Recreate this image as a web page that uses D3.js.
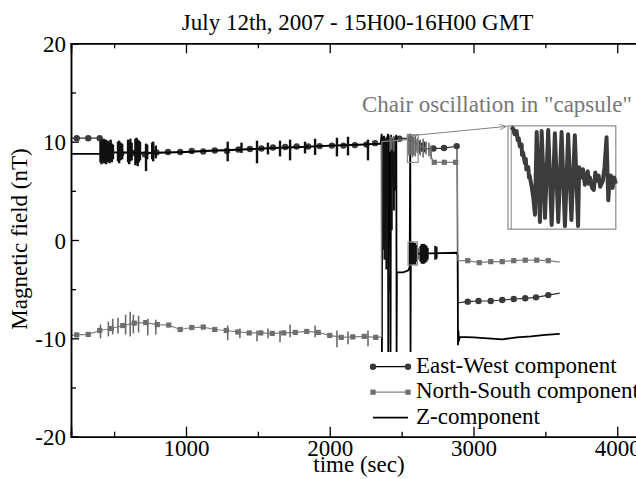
<!DOCTYPE html>
<html>
<head>
<meta charset="utf-8">
<script src="https://cdn.jsdelivr.net/npm/d3@7"></script>
<style>
  body { margin: 0; background: #fff; }
  text { font-family: "Liberation Serif", "DejaVu Serif", serif; }
</style>
</head>
<body>
<div id="chart"></div>
<script>
// time axis ticks and labels
var xMajor = [1000, 2000, 3000, 4000];
var xMinor = [500, 1500, 2500, 3500];
var yMajor = [-20, -10, 0, 10, 20];
var yMinor = [-15, -5, 5, 15];

// East-West component: base line [t, nT]
var ewLine = [[200,10.35],[400,10.35],[410,9.3],[430,8.9],[550,8.85],[630,8.85],[715,8.7],[795,8.9],[875,8.95],
  [960,8.95],[1040,9.05],[1120,9.0],[1200,9.1],[1285,9.05],[1365,9.2],[1445,9.25],[1525,9.3],[1605,9.4],
  [1690,9.45],[1770,9.5],[1850,9.5],[1930,9.55],[2015,9.6],[2095,9.6],[2175,9.65],[2255,9.7],[2340,9.8],
  [2400,10.0],[2485,10.3],[2560,10.35],[2600,9.8],[2642,9.3],[2721,9.3],[2795,9.35],[2885,9.55],
  [2890,-6.4],[2960,-6.27],[3035,-6.2],[3120,-6.2],[3200,-6.1],[3280,-6.0],[3360,-5.93],[3435,-5.83],
  [3520,-5.6],[3600,-5.4]];
var ewDots = [[240,10.35],[320,10.35],[400,10.35],[550,8.8],[630,8.85],[715,8.7],[795,8.9],[875,8.95],
  [960,8.95],[1040,9.05],[1120,9.0],[1200,9.1],[1285,9.05],[1365,9.2],[1445,9.25],[1525,9.3],[1605,9.4],
  [1690,9.45],[1770,9.5],[1850,9.5],[1930,9.55],[2015,9.6],[2095,9.6],[2175,9.65],[2255,9.7],[2315,9.85],
  [2485,10.3],[2558,10.35],[2642,9.3],[2721,9.3],[2795,9.35],[2883,9.55],
  [2960,-6.27],[3035,-6.2],[3120,-6.2],[3200,-6.1],[3280,-6.0],[3360,-5.93],[3435,-5.83],[3520,-5.6]];
var ewBursts = [[2610,9.0,10.2],[2625,8.8,10.1],[2640,9.1,9.9],[2660,8.9,10.0]];

// North-South component
var nsLine = [[200,-9.7],[240,-9.65],[320,-9.6],[400,-9.2],[480,-9.0],[560,-8.7],[640,-8.45],[720,-8.4],
  [800,-8.6],[880,-8.65],[960,-9.1],[1040,-8.9],[1120,-8.85],[1200,-9.1],[1280,-9.2],[1360,-9.35],
  [1440,-9.45],[1520,-9.45],[1600,-9.5],[1680,-9.45],[1760,-9.4],[1840,-9.3],[1920,-9.4],[2000,-9.7],
  [2080,-9.9],[2160,-9.85],[2240,-9.8],[2320,-9.9],[2360,-9.85],[2362,10.0],[2450,10.1],[2530,10.2],
  [2560,10.5],[2600,9.7],[2690,9.2],[2720,7.9],[2888,7.9],[2892,-2.1],[2960,-2.1],[3040,-2.3],
  [3120,-2.2],[3200,-2.2],[3280,-2.1],[3360,-2.05],[3440,-2.05],[3520,-2.1],[3600,-2.25]];
var nsDots = [[240,-9.65],[320,-9.6],[400,-9.2],[480,-9.0],[560,-8.7],[640,-8.45],[720,-8.4],[800,-8.6],
  [880,-8.65],[960,-9.1],[1040,-8.9],[1120,-8.85],[1200,-9.1],[1280,-9.2],[1360,-9.35],[1440,-9.45],
  [1520,-9.45],[1600,-9.5],[1680,-9.45],[1760,-9.4],[1840,-9.3],[1920,-9.4],[2000,-9.7],[2080,-9.9],
  [2160,-9.85],[2240,-9.8],[2320,-9.9],[2727,7.9],[2797,7.9],[2876,7.9],
  [2960,-2.1],[3040,-2.3],[3120,-2.2],[3200,-2.2],[3280,-2.1],[3360,-2.05],[3440,-2.05],[3520,-2.1]];
var nsBursts = [[405,-10.0,-8.6],[460,-9.8,-8.3],[490,-9.6,-8.0],[527,-9.5,-7.9],[580,-9.6,-7.6],
  [612,-9.8,-7.3],[634,-9.5,-7.6],[670,-9.4,-7.7],[734,-9.7,-8.0],[790,-9.6,-8.1],[1290,-10.2,-8.7],
  [1375,-10.0,-9.0],[1494,-10.3,-9.2],[1570,-10.0,-9.0],[1654,-10.4,-9.2],[1724,-9.9,-8.6],
  [1898,-9.9,-8.7],[2050,-10.9,-9.2],[2127,-10.6,-9.3],[2266,-10.8,-9.2],
  [2420,9.0,10.7],[2430,9.2,10.5],[2445,9.0,10.6],[2545,8.6,10.8],[2555,8.5,10.7],[2565,8.7,10.6],
  [2575,8.4,10.7],[2585,8.6,10.5],[2595,8.5,10.6],[2610,8.8,10.4],[2630,8.6,10.2],[2650,8.4,10.3],
  [2670,8.7,10.0],[2690,8.5,9.9],[2705,8.2,9.6]];

// Z component
var zLine = [[200,8.75],[400,8.75],[480,8.9],[600,8.9],[800,8.85],[1000,8.95],[1200,9.1],[1400,9.2],
  [1600,9.35],[1800,9.45],[2000,9.6],[2200,9.7],[2355,9.8],[2361,10.8],[2363,-11.4],[2366,10.5],
  [2380,4],[2392,9],[2405,10.8],[2407,-11.4],[2410,10.6],[2420,8],[2423,-11.4],[2426,10.7],[2445,5],
  [2463,10.7],[2465,-11.4],[2467,-3.3],[2510,-3.3],[2545,-3.1],[2556,-2.8],[2560,10.8],[2562,-11.4],
  [2564,-1.4],[2700,-1.35],[2885,-1.3],[2890,-1.6],[2892,-10.7],[2895,-9.2],[2898,-10.3],[2905,-9.85],
  [3000,-9.9],[3100,-10.0],[3200,-10.1],[3300,-9.9],[3400,-9.8],[3500,-9.65],[3600,-9.55]];
var zBursts = [[405,7.9,10.0],[412,7.7,10.2],[420,8.0,10.1],[428,7.8,10.3],[436,8.1,9.9],[444,7.7,10.2],
  [452,7.9,10.0],[460,8.0,10.1],[468,7.8,9.9],[476,8.1,10.2],[484,7.9,9.8],[492,8.2,9.7],
  [527,8.0,10.0],[535,7.8,10.1],[545,8.1,9.9],[556,8.2,9.8],[597,7.9,10.2],[605,7.7,10.0],
  [613,8.0,10.3],[622,8.1,9.9],[648,7.6,10.3],[656,7.8,10.4],[664,7.5,10.2],[672,7.9,10.1],
  [680,8.1,10.0],[722,7.0,9.8],[730,8.2,9.7],[765,8.2,9.9],[772,8.0,10.0],[790,8.3,9.6],
  [1290,8.0,10.0],[1386,8.85,9.9],[1494,7.8,10.1],[1570,8.7,9.9],[1654,8.5,10.1],[1724,8.1,10.2],
  [1828,8.8,10.0],[1898,8.65,10.3],[2050,8.5,10.4],[2127,8.6,10.5],[2266,8.1,10.2],
  [2370,-1,10.5],[2376,2,10.6],[2382,-2,10.4],[2388,0,10.2],[2395,-3,10.0],[2400,3,10.5],
  [2412,-5.3,-3.6],[2430,1,10.4],[2445,3,10.3],[2455,5,10.5],
  [2562,-2.5,-0.2],[2570,-2.4,-0.3],[2578,-2.5,-0.2],[2586,-2.3,-0.4],[2594,-2.5,-0.3],[2602,-2.2,-0.5],
  [2610,-2.0,-0.8],[2632,-2.2,-0.6],[2640,-2.4,-0.4],[2648,-2.4,-0.4],[2656,-2.4,-0.4],[2664,-2.3,-0.5],
  [2672,-2.2,-0.6],[2680,-2.0,-0.8],[2735,-2.0,-0.6],[2742,-1.9,-0.7]];

// zoomed "capsule" trace, inset units 0..100
var insetTrace = [[3,99],[5,97],[6,92],[8,95],[9,86],[10,88],[11,80],[12.7,82],[13,72],[14,74],[15.7,64],
  [16.5,68],[17,58],[18.8,60],[19.5,50],[20,52],[22,41],[23.5,30],
  [25,14],[26.6,94],[29.6,7],[31.2,95],[34.3,11],[37.3,96],[40.5,4],[43.5,93],[46.6,7],[49.7,94],
  [52.8,3],[55.8,92],[58.8,9],[62,91],[65,3],[66,60],[68,50],[69.5,58],[71.3,43],[73,52],[74,56],
  [75,44],[76,50],[78,40],[79.6,38],[81,55],[82,47],[84,52],[85.5,41],[88,47],[89.5,60],[91.4,89],
  [93,28],[94,44],[95.4,52],[97,40],[98.5,50],[100,44]];
var insetBox = [3240, 3990, 1.1, 11.6];
var sourceBoxes = [[2540, 2615, 7.9, 10.7], [2545, 2610, -2.55, -0.2]];
var arrowPts = [[2544, 10.58], [3230, 11.55]];

var W = 636, H = 479, FS = 23;
var margin = {left: 71, top: 43.3, right: -10, bottom: 42.3};
var pw = W - margin.left - margin.right, ph = H - margin.top - margin.bottom;

var svg = d3.select("#chart").append("svg").attr("width", W).attr("height", H);
svg.append("defs").append("marker")
  .attr("id", "arr").attr("viewBox", "0 0 10 10").attr("refX", 10).attr("refY", 5)
  .attr("markerWidth", 7).attr("markerHeight", 7).attr("orient", "auto")
  .append("path").attr("d", "M0,1 L10,5 L0,9").attr("fill", "none").attr("stroke", "#808080").attr("stroke-width", 1.2);

var g = svg.append("g").attr("transform", "translate(" + margin.left + "," + margin.top + ")");
var x = d3.scaleLinear().domain([200, 4200]).range([0, pw]);
var y = d3.scaleLinear().domain([-20, 20]).range([ph, 0]);
var line = d3.line().x(function(d) { return x(d[0]); }).y(function(d) { return y(d[1]); });
var fmt = function(d) { return String(d); };   // plain hyphen minus, like the original

function bursts(data, color, w) {
  g.append("g").selectAll("line").data(data).enter().append("line")
    .attr("x1", function(d) { return x(d[0]); }).attr("x2", function(d) { return x(d[0]); })
    .attr("y1", function(d) { return y(d[1]); }).attr("y2", function(d) { return y(d[2]); })
    .attr("stroke", color).attr("stroke-width", w);
}

// East-West
g.append("path").datum(ewLine).attr("d", line).attr("fill", "none").attr("stroke", "#303030").attr("stroke-width", 1.2);
bursts(ewBursts, "#303030", 2);
g.append("g").selectAll("circle").data(ewDots).enter().append("circle")
  .attr("cx", function(d) { return x(d[0]); }).attr("cy", function(d) { return y(d[1]); })
  .attr("r", 3.2).attr("fill", "#3a3a3a");

// Z
g.append("path").datum(zLine).attr("d", line).attr("fill", "none").attr("stroke", "#000").attr("stroke-width", 1.8);
bursts(zBursts, "#111", 2.4);

// North-South
g.append("path").datum(nsLine).attr("d", line).attr("fill", "none").attr("stroke", "#808080").attr("stroke-width", 1.2);
bursts(nsBursts, "#6a6a6a", 1.6);
g.append("g").selectAll("rect").data(nsDots).enter().append("rect")
  .attr("x", function(d) { return x(d[0]) - 2.6; }).attr("y", function(d) { return y(d[1]) - 2.6; })
  .attr("width", 5.2).attr("height", 5.2).attr("fill", "#6e6e6e");

// annotation: source boxes, arrow, inset
g.selectAll(".src").data(sourceBoxes).enter().append("rect")
  .attr("x", function(d) { return x(d[0]); }).attr("y", function(d) { return y(d[3]); })
  .attr("width", function(d) { return x(d[1]) - x(d[0]); }).attr("height", function(d) { return y(d[2]) - y(d[3]); })
  .attr("fill", "none").attr("stroke", "#8a8a8a").attr("stroke-width", 1.2);
g.append("path").datum(arrowPts).attr("d", line).attr("fill", "none")
  .attr("stroke", "#808080").attr("stroke-width", 1).attr("marker-end", "url(#arr)");

var ix = d3.scaleLinear().domain([0, 100]).range([x(insetBox[0]), x(insetBox[1])]);
var iy = d3.scaleLinear().domain([0, 100]).range([y(insetBox[2]), y(insetBox[3])]);
g.append("rect").attr("x", ix(0)).attr("y", iy(100)).attr("width", ix(100) - ix(0)).attr("height", iy(0) - iy(100))
  .attr("fill", "#fff").attr("stroke", "#8a8a8a").attr("stroke-width", 1.2);
g.append("line").attr("x1", ix(3)).attr("x2", ix(3)).attr("y1", iy(0)).attr("y2", iy(100))
  .attr("stroke", "#8a8a8a").attr("stroke-width", 1);
g.append("path").datum(insetTrace)
  .attr("d", d3.line().x(function(d) { return ix(d[0]); }).y(function(d) { return iy(d[1]); }))
  .attr("fill", "none").attr("stroke", "#3c3c3c").attr("stroke-width", 4).attr("stroke-linejoin", "round");

g.append("text").attr("x", 362 - margin.left).attr("y", 111.7 - margin.top)
  .attr("font-size", FS).attr("fill", "#777").text("Chair oscillation in \"capsule\"");

// axes with inward ticks
function styleAxis(sel) {
  sel.selectAll("path.domain").attr("stroke", "#000").attr("stroke-width", 1.5);
  sel.selectAll(".tick line").attr("stroke", "#000").attr("stroke-width", 1.3);
  sel.selectAll("text").attr("font-family", "Liberation Serif").attr("font-size", FS).attr("fill", "#000");
}
var gx = g.append("g").attr("transform", "translate(0," + ph + ")")
  .call(d3.axisBottom(x).tickValues(xMajor).tickSize(-10).tickPadding(3).tickFormat(fmt));
styleAxis(gx);
g.append("g").attr("transform", "translate(0," + ph + ")")
  .call(d3.axisBottom(x).tickValues(xMinor).tickSize(-5).tickFormat("")).call(styleAxis);
g.append("g").call(d3.axisTop(x).tickValues(xMajor).tickSize(-10).tickFormat("")).call(styleAxis);
g.append("g").call(d3.axisTop(x).tickValues(xMinor).tickSize(-5).tickFormat("")).call(styleAxis);
var gy = g.append("g").call(d3.axisLeft(y).tickValues(yMajor).tickSize(-8).tickPadding(5).tickFormat(fmt));
styleAxis(gy);
gy.selectAll("text").attr("dy", "0.36em");
g.append("g").call(d3.axisLeft(y).tickValues(yMinor).tickSize(-5).tickFormat("")).call(styleAxis);
g.append("g").attr("transform", "translate(" + pw + ",0)")
  .call(d3.axisRight(y).tickValues(yMajor).tickSize(-10).tickFormat("")).call(styleAxis);
g.append("g").attr("transform", "translate(" + pw + ",0)")
  .call(d3.axisRight(y).tickValues(yMinor).tickSize(-5).tickFormat("")).call(styleAxis);

// titles
svg.append("text").attr("x", 357.5).attr("y", 30).attr("text-anchor", "middle")
  .attr("font-size", FS).text("July 12th, 2007 - 15H00-16H00 GMT");
svg.append("text").attr("x", 359).attr("y", 472).attr("text-anchor", "middle")
  .attr("font-size", FS).text("time (sec)");
svg.append("text").attr("transform", "translate(27,239) rotate(-90)").attr("text-anchor", "middle")
  .attr("font-size", FS).text("Magnetic field (nT)");

// legend
var legend = [
  {name: "East-West component", color: "#000", mark: "circle", mcolor: "#3a3a3a"},
  {name: "North-South component", color: "#808080", mark: "square", mcolor: "#6e6e6e"},
  {name: "Z-component", color: "#000", mark: null}
];
var lg = svg.append("g").attr("transform", "translate(373,366.7)");
legend.forEach(function(d, i) {
  var row = lg.append("g").attr("transform", "translate(0," + (i * 25.5) + ")");
  row.append("line").attr("x1", 0).attr("x2", 35).attr("stroke", d.color).attr("stroke-width", d.mark ? 1.2 : 1.8);
  [0, 35].forEach(function(px) {
    if (d.mark === "circle") row.append("circle").attr("cx", px).attr("r", 3.2).attr("fill", d.mcolor);
    if (d.mark === "square") row.append("rect").attr("x", px - 2.6).attr("y", -2.6).attr("width", 5.2).attr("height", 5.2).attr("fill", d.mcolor);
  });
  row.append("text").attr("x", 43).attr("y", 6).attr("font-size", FS).text(d.name);
});
</script>
</body>
</html>
